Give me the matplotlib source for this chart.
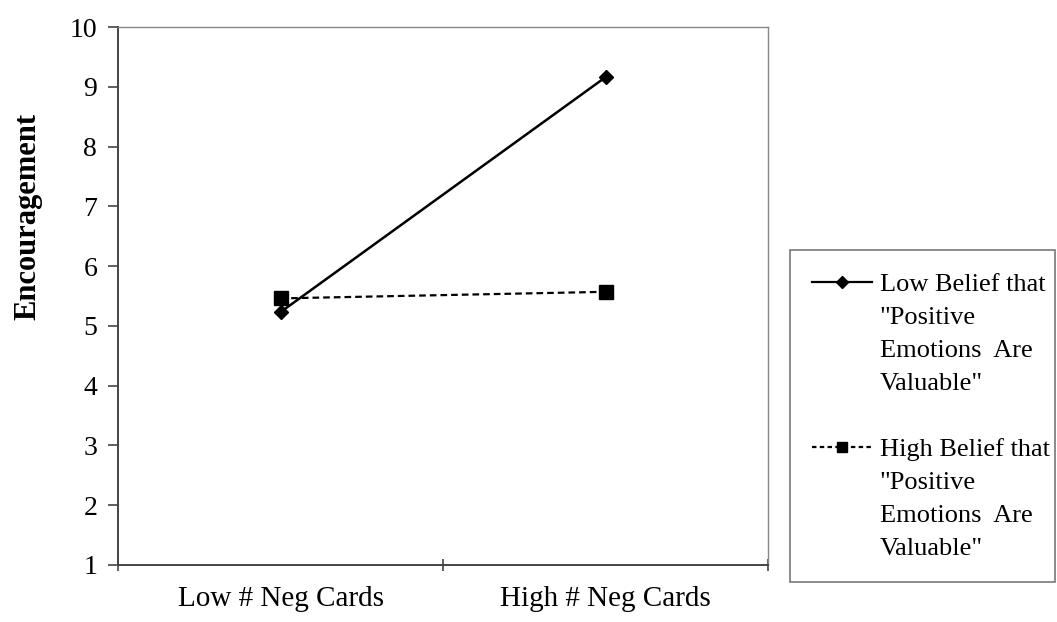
import matplotlib.pyplot as plt
from matplotlib.lines import Line2D

# Data
categories = ['Low # Neg Cards', 'High # Neg Cards']
low_belief = [5.23, 9.16]
high_belief = [5.46, 5.57]
low_label = ['Low Belief that', '"Positive', 'Emotions  Are', 'Valuable"']
high_label = ['High Belief that', '"Positive', 'Emotions  Are', 'Valuable"']
y_ticks = [1, 2, 3, 4, 5, 6, 7, 8, 9, 10]

plt.rcParams['font.family'] = ['Liberation Serif', 'DejaVu Serif']

fig = plt.figure(figsize=(10.57, 6.22), dpi=100)
ax = fig.add_axes([118 / 1057, 1 - 565 / 622, (768 - 118) / 1057, (565 - 27) / 622])

x = list(range(len(categories)))
l1, = ax.plot(x, low_belief, color='black', linewidth=1.8, marker='D', markersize=7)
l2, = ax.plot(x, high_belief, color='black', linewidth=1.6, linestyle=(0, (3, 1.8)),
              marker='s', markersize=9.5)

ax.set_xlim(-0.5, 1.5)
ax.set_ylim(1, 10)
ax.set_yticks(y_ticks)
ax.set_xticks([-0.5, 0.5, 1.5])
ax.set_xticklabels([])
ax.set_xticks(x, minor=True)
ax.set_xticklabels(categories, minor=True, fontsize=21)
ax.tick_params(axis='x', which='minor', length=0, pad=15)
ax.tick_params(axis='x', which='major', length=8, width=1.2, color='#444444', direction='inout')
ax.tick_params(axis='y', length=7, width=1.2, color='#444444', direction='out', labelsize=20, pad=8)

for side in ['left', 'bottom']:
    ax.spines[side].set_color('#444444')
    ax.spines[side].set_linewidth(1.4)
for side in ['top', 'right']:
    ax.spines[side].set_color('#888888')
    ax.spines[side].set_linewidth(1.0)

ax.set_ylabel('Encouragement', fontsize=22, fontweight='bold')
ax.yaxis.set_label_coords(-0.117, 0.647)

# legend: one entry per text line so the marker sits on the first line,
# plus an empty spacer entry between the two groups
blank = Line2D([], [], linestyle='none')
h_low = Line2D([], [], color='black', linewidth=1.6, marker='D', markersize=6)
h_high = Line2D([], [], color='black', linewidth=1.6, linestyle=(0, (2, 1.5)),
                marker='s', markersize=7)
handles = [h_low] + [blank] * 3 + [blank] + [h_high] + [blank] * 3
labels = low_label + [' '] + high_label

leg = ax.legend(handles, labels, loc='upper left',
                bbox_to_anchor=(790 / 1057, 1 - 250 / 622 - 0.01, 265 / 1057, 0.01),
                bbox_transform=fig.transFigure, mode='expand', fontsize=19,
                frameon=True, fancybox=False, edgecolor='#555555',
                handlelength=2.25, handletextpad=0.3, labelspacing=0.36,
                borderpad=0.85, borderaxespad=0)
leg.get_frame().set_linewidth(1.2)

fig.savefig('out.png', dpi=100)
